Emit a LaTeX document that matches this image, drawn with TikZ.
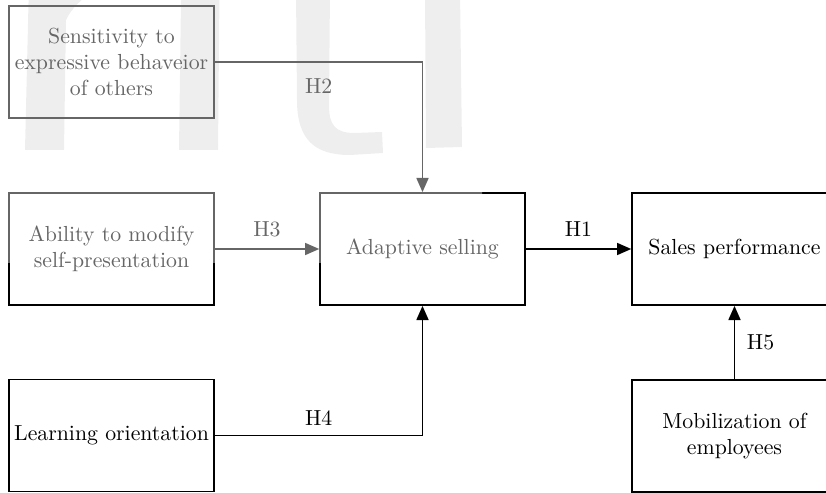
\documentclass[tikz,border=0pt]{standalone}
\usetikzlibrary{arrows.meta}

\begin{document}
\begin{tikzpicture}[x=0.459pt, y=-0.459pt, line width=0.8pt,
    >={Triangle[length=6.5pt,width=5.5pt]},
    box/.style={draw, minimum width=94pt, minimum height=51.4pt, align=center, inner sep=2pt},
    mark bg/.style={fill=black!11, draw=none}]
    \clip (0,0) rectangle (826,493);
    % Background letters
    \fill[mark bg] (25,150) -- (30,-60) -- (220,-60) -- (218,150) -- (179,150) -- (181,0)
        .. controls (181,-30) and (90,-30) .. (66,20) -- (64,150) -- cycle;
    \fill[mark bg] (296,-10) -- (297,100) .. controls (297,140) and (315,155) .. (350,155)
        -- (383,153) -- (382,132) -- (355,133) .. controls (335,133) and (329,125) .. (329,105)
        -- (330,-10) -- cycle;
    \fill[mark bg] (425,-10) -- (426,148) -- (462,147) -- (460,-10) -- cycle;
    % Nodes
    \node[box] (SE) at (111.5,62) {Sensitivity to\\expressive behaveior\\of others};
    \node[box] (AB) at (111.5,249) {Ability to modify\\self-presentation};
    \node[box] (AS) at (422.5,249) {Adaptive selling};
    \node[box] (SP) at (734.5,249) {Sales performance};
    \node[box] (LO) at (111.5,435.5) {Learning orientation};
    \node[box] (ME) at (734.5,436) {Mobilization of\\employees};
    \draw[->] (SE.east) -| (AS.north) node[pos=0.25, below=4pt] {H2};
    \draw[->] (AB) -- (AS) node[midway, above=2pt] {H3};
    \draw[->] (AS) -- (SP) node[midway, above=2pt] {H1};
    \draw[->] (LO.east) -| (AS.south) node[pos=0.25, above=1pt] {H4};
    \draw[->] (ME) -- (SP) node[midway, right=2pt] {H5};
    % Faded top part
    \fill[white, opacity=0.4] (0,0) rectangle (482,263)
        (18,263) rectangle (206,273) (482,232) rectangle (508,263);
\end{tikzpicture}
\end{document}
